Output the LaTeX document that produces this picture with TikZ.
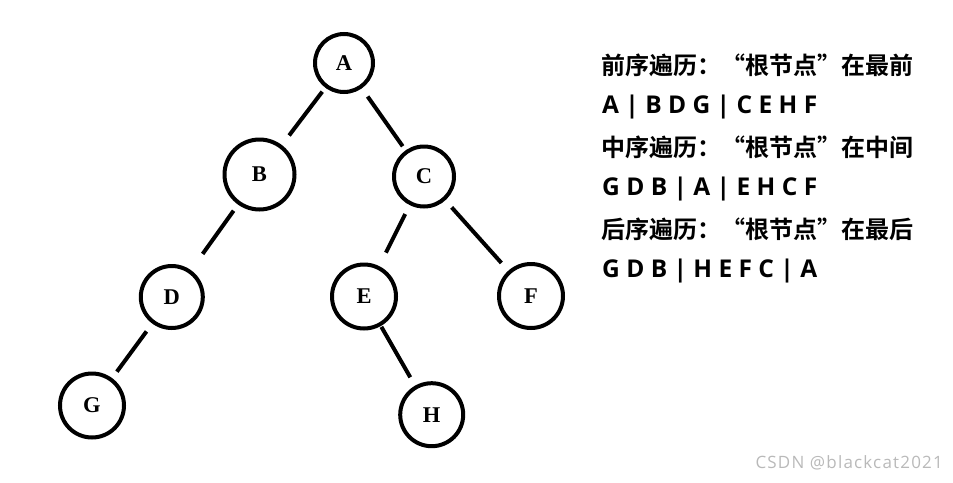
\documentclass[tikz,border=0pt]{standalone}
\usepackage{fontspec}
\setmainfont{Liberation Serif}
\newfontfamily\cjk[BoldFont={Noto Sans CJK SC Bold},RawFeature=+fwid]{Noto Sans CJK SC}
\newfontfamily\latinb{Open Sans}
\newfontfamily\wm[LetterSpace=7]{Open Sans}
\definecolor{wmgray}{RGB}{185,185,185}
\begin{document}
\begin{tikzpicture}[x=1pt,y=-1pt,
  tnode/.style={circle,draw,line width=4pt,inner sep=0pt,font=\fontsize{22.5}{22.5}\selectfont\bfseries},
  edge/.style={line width=4pt},
  cjkline/.style={anchor=base west,inner sep=0pt,font=\fontsize{24}{24}\cjk\bfseries},
  latline/.style={anchor=base west,inner sep=0pt,font=\fontsize{24.5}{24.5}\latinb\bfseries}]
\useasboundingbox (0,0) rectangle (953,482);
\node[tnode,minimum size=58pt] (A) at (344,63) {A};
\node[tnode,minimum size=70pt] (B) at (259.5,174.5) {B};
\node[tnode,minimum size=60pt] (C) at (424,176.5) {C};
\node[tnode,minimum size=62pt] (D) at (171.8,297) {D};
\node[tnode,minimum size=64pt] (E) at (364,296.5) {E};
\node[tnode,minimum size=64pt] (F) at (531,296) {F};
\node[tnode,minimum size=64pt] (G) at (92,405.5) {G};
\node[tnode,minimum size=63pt] (H) at (431.7,414.7) {H};
\draw[edge,shorten <=5pt,shorten >=12pt] (A) -- (B);
\draw[edge,shorten <=10pt,shorten >=5pt] (A) -- (C);
\draw[edge,shorten <=7.5pt,shorten >=20pt] (B) -- (D);
\draw[edge,shorten <=9.7pt,shorten >=8pt] (D) -- (G);
\draw[edge,shorten <=10pt,shorten >=15pt] (C) -- (E);
\draw[edge,shorten <=9.5pt,shorten >=10.4pt] (C) -- (F);
\draw[edge,shorten <=1pt,shorten >=9.6pt] (E) -- (H);
\node[cjkline] (t1) at (601,74) {前序遍历：“根节点”在最前};
\node[latline] (t2) at (602,113) {A | B D G | C E H F};
\node[cjkline] (t3) at (601,156) {中序遍历：“根节点”在中间};
\node[latline] (t4) at (602,195) {G D B | A | E H C F};
\node[cjkline] (t5) at (601,238) {后序遍历：“根节点”在最后};
\node[latline] (t6) at (602,277) {G D B | H E F C | A};
\node[anchor=base east,inner sep=0pt,text=wmgray,font=\fontsize{17}{17}\wm] (wm) at (943,468.5) {CSDN @blackcat2021};
\end{tikzpicture}
\end{document}
